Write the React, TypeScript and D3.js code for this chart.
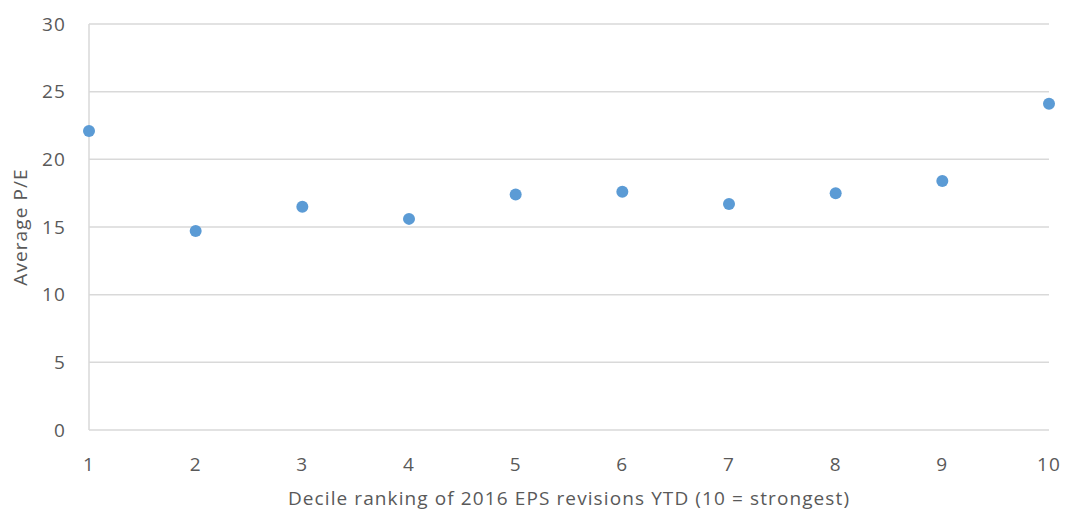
import React from "react";
import * as d3 from "d3";

const deciles = [1, 2, 3, 4, 5, 6, 7, 8, 9, 10];
const avgPE = [22.1, 14.7, 16.5, 15.6, 17.4, 17.6, 16.7, 17.5, 18.4, 24.1];
const yTicks = [0, 5, 10, 15, 20, 25, 30];
const xTitle = "Decile ranking of 2016 EPS revisions YTD (10 = strongest)";
const yTitle = "Average P/E";

const W = 1065;
const H = 510;
const M = { left: 89, right: 16, top: 24, bottom: 80 };

export default function App() {
  const x = d3.scaleLinear().domain([1, 10]).range([M.left, W - M.right]);
  const y = d3.scaleLinear().domain([0, 30]).range([H - M.bottom, M.top]);
  const font = "'Open Sans', sans-serif";
  const textColor = "#595959";
  const grid = "#D9D9D9";
  const fs = 19;
  const ls = 1.1;
  return (
    <div style={{ position: "absolute", left: 0, top: 0 }}>
      <svg width={W} height={H} style={{ display: "block", background: "#fff" }} fontFamily={font}>
        {yTicks.map((t) => (
          <g key={t}>
            <line x1={x(1)} x2={x(10)} y1={y(t)} y2={y(t)} stroke={grid} strokeWidth={1.5} />
            <text x={66} y={y(t)} dy="0.35em" textAnchor="end" fontSize={fs} letterSpacing={ls} fill={textColor}>
              {t}
            </text>
          </g>
        ))}
        <line x1={x(1)} x2={x(1)} y1={y(0)} y2={y(30)} stroke={grid} strokeWidth={1.5} />
        {deciles.map((d) => (
          <text key={d} x={x(d)} y={y(0) + 34} dy="0.35em" textAnchor="middle" fontSize={fs} letterSpacing={ls} fill={textColor}>
            {d}
          </text>
        ))}
        {deciles.map((d, i) => (
          <circle key={d} cx={x(d)} cy={y(avgPE[i])} r={6} fill="#5B9BD5" />
        ))}
        <text x={(x(1) + x(10)) / 2} y={505} textAnchor="middle" fontSize={fs} letterSpacing={ls} fill={textColor}>
          {xTitle}
        </text>
        <text
          transform={`translate(27, ${(y(0) + y(30)) / 2}) rotate(-90)`}
          textAnchor="middle"
          fontSize={fs}
          letterSpacing={ls}
          fill={textColor}
        >
          {yTitle}
        </text>
      </svg>
    </div>
  );
}
